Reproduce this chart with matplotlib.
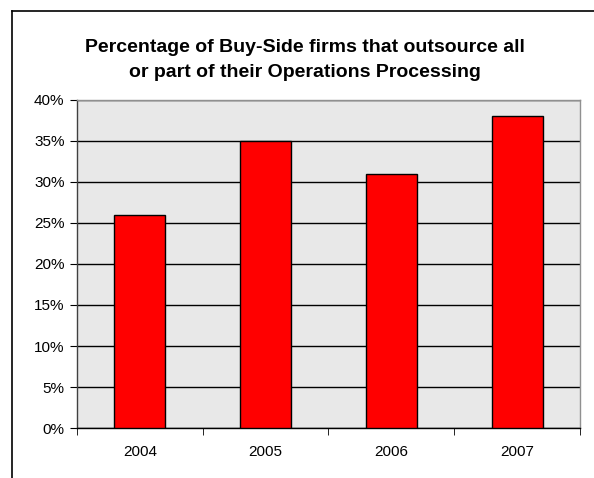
import matplotlib
matplotlib.use("Agg")
import matplotlib.pyplot as plt
from matplotlib.lines import Line2D
from matplotlib.ticker import FixedLocator, FuncFormatter

years = ["2004", "2005", "2006", "2007"]
shares = [26, 35, 31, 38]
y_ticks = [0, 5, 10, 15, 20, 25, 30, 35, 40]

plt.rcParams["font.family"] = ["Liberation Sans", "DejaVu Sans"]

fig = plt.figure(figsize=(5.94, 4.78), dpi=100)
ax = fig.add_axes([0.1296, 0.1046, 0.8468, 0.6862])

x = range(len(years))
ax.bar(x, shares, width=0.405, color="#FF0000", edgecolor="black", linewidth=1, zorder=3)

ax.set_facecolor("#E8E8E8")
ax.set_xlim(-0.5, len(years) - 0.5)
ax.set_ylim(0, 40)
ax.set_yticks(y_ticks)
ax.yaxis.set_major_formatter(FuncFormatter(lambda v, _: f"{v:.0f}%"))
ax.grid(axis="y", color="black", linewidth=1, zorder=1)

# category labels in the middle, tick marks on the boundaries
ax.set_xticks(list(x))
ax.set_xticklabels(years)
ax.tick_params(axis="x", which="major", length=0, pad=12, labelsize=11)
ax.xaxis.set_minor_locator(FixedLocator([i - 0.5 for i in range(len(years) + 1)]))
ax.tick_params(axis="x", which="minor", length=5, direction="out", color="black")
ax.tick_params(axis="y", length=5, direction="out", labelsize=11, pad=4)

ax.spines["left"].set_color("#404040")
ax.spines["bottom"].set_color("black")
ax.spines["top"].set_color("#909090")
ax.spines["right"].set_color("#909090")
for s in ax.spines.values():
    s.set_linewidth(1)

fig.text(0.513, 0.874, "Percentage of Buy-Side firms that outsource all\nor part of their Operations Processing",
         ha="center", va="center", fontsize=14, fontweight="bold", linespacing=1.6)

# chart border (only top and left show)
fig.add_artist(Line2D([12 / 594, 1], [1 - 11 / 478] * 2, color="black", linewidth=1.2))
fig.add_artist(Line2D([12 / 594] * 2, [0, 1 - 11 / 478], color="black", linewidth=1.2))

fig.savefig("out.png", dpi=100)
